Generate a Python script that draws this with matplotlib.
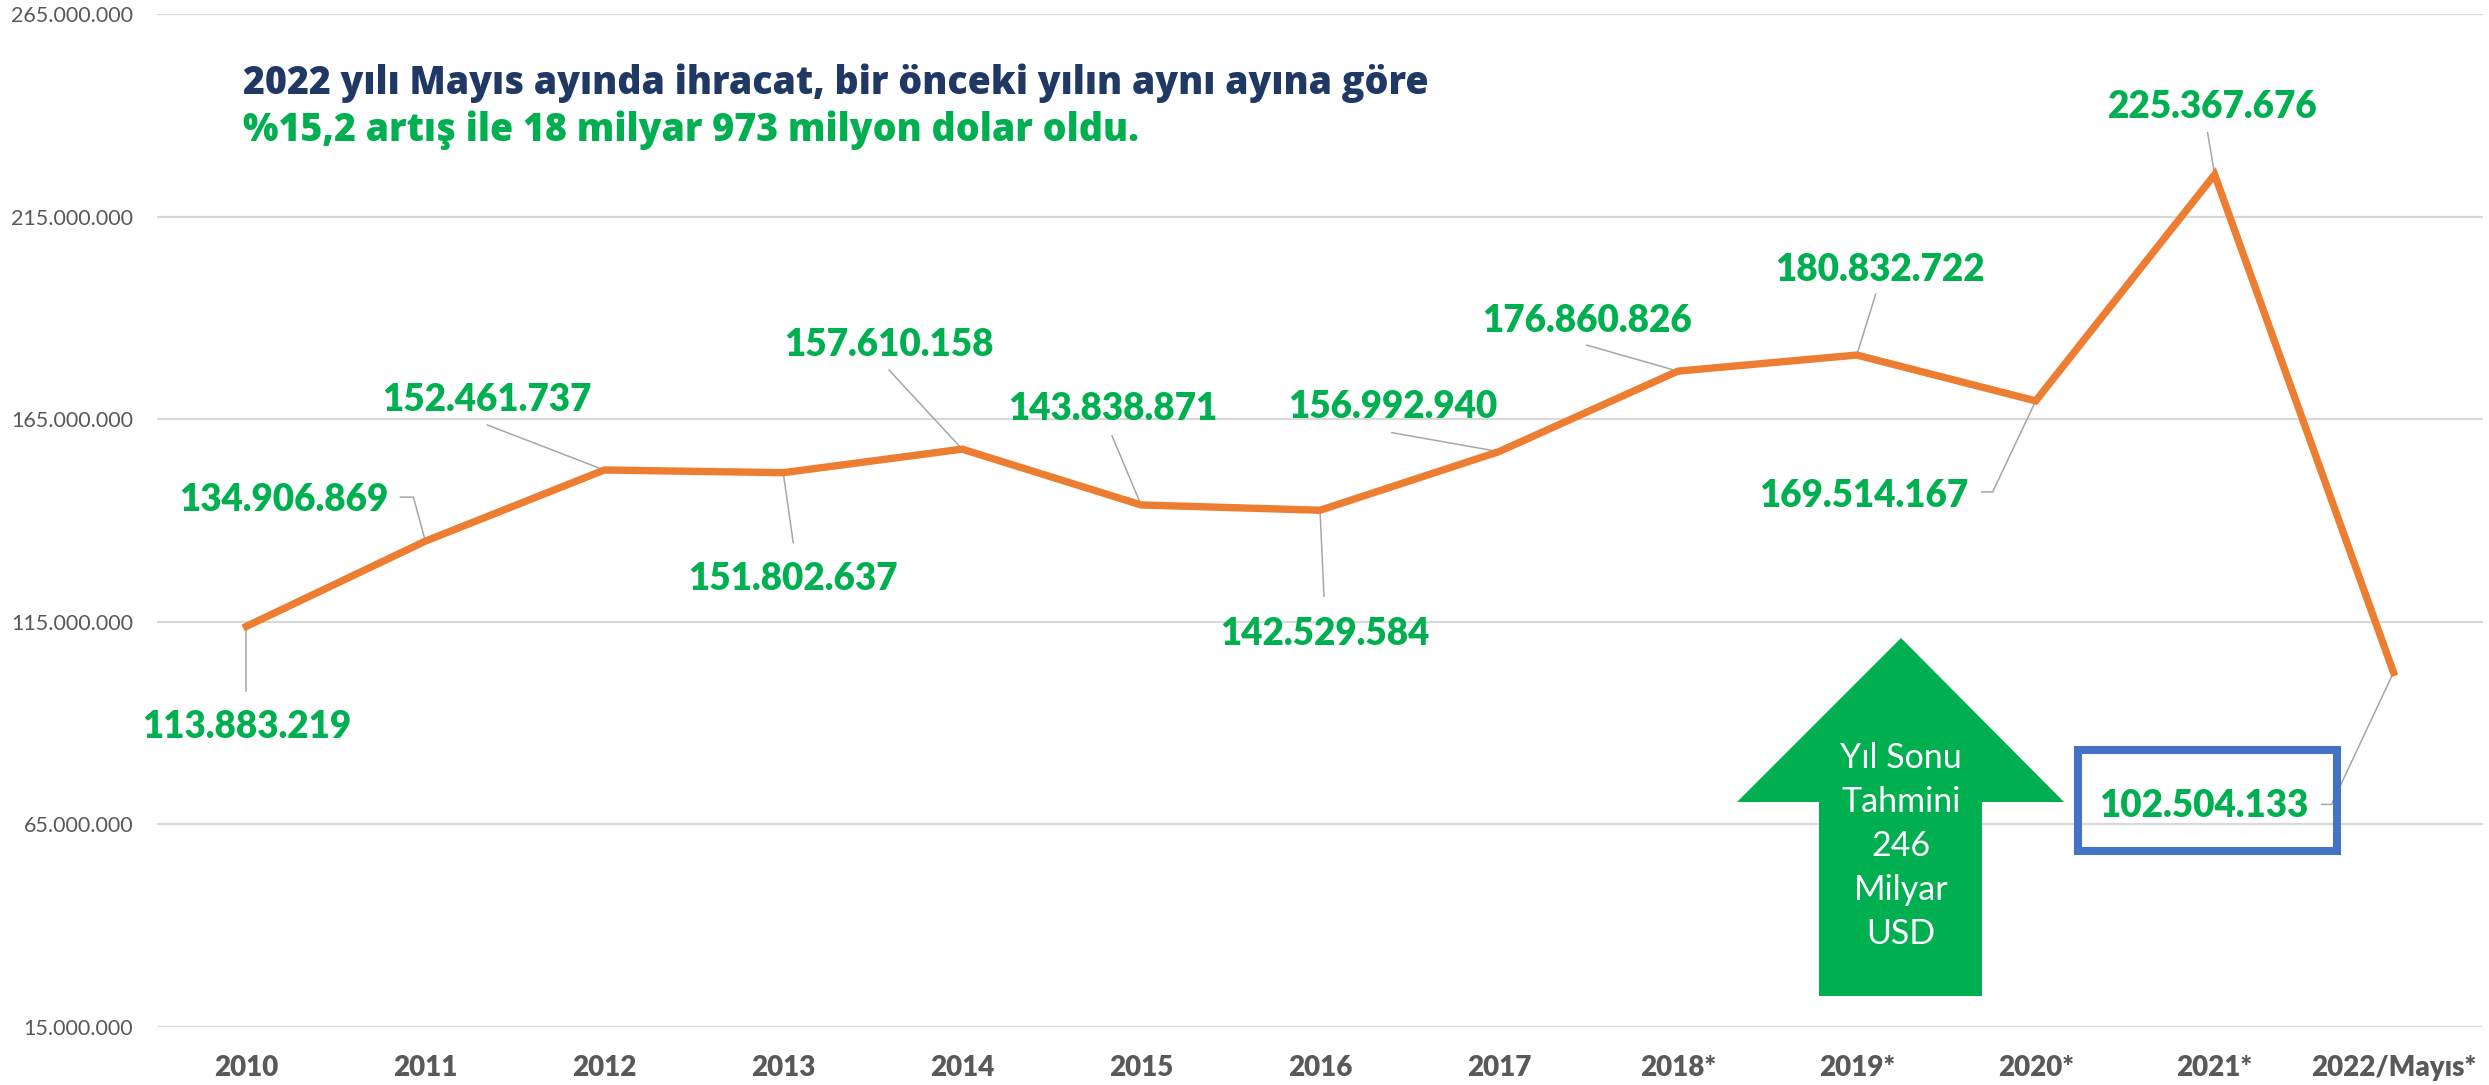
import matplotlib
matplotlib.use("Agg")
import matplotlib.pyplot as plt
import matplotlib.transforms as mtransforms
from matplotlib.lines import Line2D
from matplotlib.patches import Polygon, Rectangle
from matplotlib.ticker import FuncFormatter

# data
years = ['2010', '2011', '2012', '2013', '2014', '2015', '2016', '2017',
         '2018*', '2019*', '2020*', '2021*', '2022/Mayıs*']
exports = [113883219, 134906869, 152461737, 151802637, 157610158, 143838871,
           142529584, 156992940, 176860826, 180832722, 169514167, 225367676,
           102504133]
y_ticks = [15000000, 65000000, 115000000, 165000000, 215000000, 265000000]

title1 = "2022 yılı Mayıs ayında ihracat, bir önceki yılın aynı ayına göre"
title2 = "%15,2 artış ile 18 milyar 973 milyon dolar oldu."
arrow_text = "Yıl Sonu\nTahmini\n246\nMilyar\nUSD"

# label placement, pixel offsets from each point (text centre, leader path)
label_off = [(0, -98), (-142, 44), (-117, 73), (10, -103), (-73, 107),
             (-28, 99), (5, -121), (-106, 48), (-91, 53), (23, 88),
             (-172, -92), (-2, 71), (-190, -131)]
leaders = [
    [(0, 0), (0, -65)],
    [(-25, 44), (-12, 44), (0, 0)],
    [(-117, 45), (0, 0)],
    [(0, 0), (10, -70)],
    [(-73, 79), (0, 0)],
    [(-29, 69), (0, 0)],
    [(0, 0), (4, -86)],
    [(-107, 19), (0, 0)],
    [(-91, 26), (0, 0)],
    [(19, 61), (0, 0)],
    [(-54, -91), (-43, -91), (0, 0)],
    [(-7, 42), (0, 0)],
    [(-72, -132), (-62, -132), (0, 0)],
]

W, H = 2489, 1085
GREEN = '#00B050'
ORANGE = '#ED7D31'
GRAY = '#595959'


def px(x, y):
    return (x / W, 1 - y / H)


fig = plt.figure(figsize=(W / 100, H / 100), dpi=100)
ax = fig.add_axes([157 / W, 58 / H, 2326 / W, 1013 / H])

x = list(range(len(years)))
ax.set_xlim(-0.5, len(years) - 0.5)
ax.set_ylim(y_ticks[0], y_ticks[-1])

ax.plot(x, exports, color=ORANGE, lw=5.3, solid_joinstyle='miter', zorder=3)

ax.set_yticks(y_ticks)
ax.yaxis.set_major_formatter(FuncFormatter(lambda v, p: f"{int(v):,}".replace(',', '.')))
ax.set_xticks(x)
ax.set_xticklabels(years)
ax.grid(axis='y', color='#D9D9D9', lw=1.6)
ax.set_axisbelow(True)
for s in ax.spines.values():
    s.set_visible(False)
ax.tick_params(axis='y', length=0, pad=17, labelsize=15.5, labelcolor=GRAY)
ax.tick_params(axis='x', length=0, pad=20, labelsize=20, labelcolor=GRAY)
for t in ax.get_yticklabels():
    t.set_fontfamily('Lato')
for t in ax.get_xticklabels():
    t.set_fontfamily('Lato')
    t.set_fontweight('heavy')

for i, v in enumerate(exports):
    dx, dy = label_off[i]
    ax.annotate(f"{v:,}".replace(',', '.'), xy=(i, v), xytext=(dx, dy),
                textcoords='offset pixels', ha='center', va='center_baseline',
                fontsize=26.5, fontweight='heavy', color=GREEN, family='Lato',
                annotation_clip=False, zorder=4)
    tr = mtransforms.Affine2D() + mtransforms.ScaledTranslation(i, v, ax.transData)
    xs, ys = zip(*leaders[i])
    ax.add_line(Line2D(xs, ys, transform=tr, color='#A6A6A6', lw=1.1,
                       clip_on=False, zorder=2))

# title
fig.text(*px(243, 83), title1, ha='left', va='center', fontsize=27,
         fontweight=800, color='#203864', family='Open Sans')
fig.text(*px(243, 130), title2, ha='left', va='center', fontsize=27,
         fontweight=800, color=GREEN, family='Open Sans')

# arrow
arrow_pts = [(1901, 638), (2064, 802), (1982, 802), (1982, 996),
             (1819, 996), (1819, 802), (1737, 802)]
fig.patches.append(Polygon([px(a, b) for a, b in arrow_pts], closed=True,
                           transform=fig.transFigure, facecolor=GREEN,
                           edgecolor='none', zorder=5))
fig.text(*px(1901, 846), arrow_text, ha='center', va='center', fontsize=24.5,
         color='white', family='Lato', linespacing=1.47, zorder=6)

# blue box around last value
x0, y0 = px(2078, 851)
x1, y1 = px(2337, 750)
fig.patches.append(Rectangle((x0, y0), x1 - x0, y1 - y0, transform=fig.transFigure,
                             facecolor='none', edgecolor='#4472C4', lw=5.8, zorder=5))

fig.savefig('out.png', dpi=100, facecolor='white')
